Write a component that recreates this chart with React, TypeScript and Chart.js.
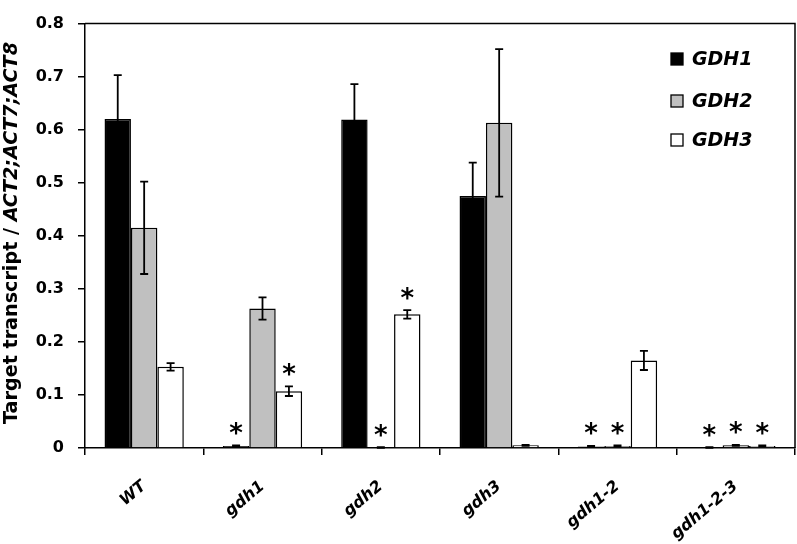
import React, { useEffect, useRef } from "react";
import { Chart, registerables } from "chart.js";

Chart.register(...registerables);

const categories = ["WT", "gdh1", "gdh2", "gdh3", "gdh1-2", "gdh1-2-3"];
const seriesNames = ["GDH1", "GDH2", "GDH3"];
const gdh1Values = [0.62, 0.004, 0.619, 0.475, 0.003, 0.001];
const gdh2Values = [0.415, 0.263, 0.001, 0.613, 0.004, 0.005];
const gdh3Values = [0.153, 0.107, 0.252, 0.005, 0.165, 0.004];
const gdh1Errors = [0.083, 0.001, 0.067, 0.063, 0.001, 0.0005];
const gdh2Errors = [0.087, 0.021, 0.0005, 0.139, 0.001, 0.001];
const gdh3Errors = [0.007, 0.009, 0.008, 0.001, 0.018, 0.001];
const gdh1Stars = [false, true, false, false, true, true];
const gdh2Stars = [false, false, true, false, true, true];
const gdh3Stars = [false, true, true, false, false, true];
const yTicks = [0, 0.1, 0.2, 0.3, 0.4, 0.5, 0.6, 0.7, 0.8];
const fillColors = ["#000000", "#c0c0c0", "#ffffff"];

const FONT = "'DejaVu Sans', sans-serif";

const errorsBySeries = [gdh1Errors, gdh2Errors, gdh3Errors];
const starsBySeries = [gdh1Stars, gdh2Stars, gdh3Stars];

const overlayPlugin = {
  id: "overlay",
  afterDatasetsDraw(chart: any) {
    const ctx = chart.ctx;
    const yScale = chart.scales.y;
    const area = chart.chartArea;
    ctx.save();
    chart.data.datasets.forEach((ds: any, i: number) => {
      const meta = chart.getDatasetMeta(i);
      meta.data.forEach((el: any, j: number) => {
        const v = ds.data[j];
        const e = errorsBySeries[i][j];
        const x = el.x;
        const yTop = yScale.getPixelForValue(v + e);
        const yBot = yScale.getPixelForValue(Math.max(0, v - e));
        ctx.strokeStyle = "#000";
        ctx.lineWidth = 1.8;
        ctx.beginPath();
        ctx.moveTo(x, yTop);
        ctx.lineTo(x, yBot);
        ctx.moveTo(x - 4, yTop);
        ctx.lineTo(x + 4, yTop);
        ctx.moveTo(x - 4, yBot);
        ctx.lineTo(x + 4, yBot);
        ctx.stroke();
        if (starsBySeries[i][j]) {
          ctx.font = `bold 26px ${FONT}`;
          ctx.fillStyle = "#000";
          ctx.textAlign = "center";
          ctx.textBaseline = "alphabetic";
          const m = ctx.measureText("*");
          const cy = Math.min(yTop, yScale.getPixelForValue(v)) - 17;
          const off = (m.actualBoundingBoxAscent - m.actualBoundingBoxDescent) / 2;
          ctx.fillText("*", x, cy + off);
        }
      });
    });
    ctx.strokeStyle = "#000";
    ctx.lineWidth = 1.5;
    ctx.beginPath();
    ctx.moveTo(area.left, area.top);
    ctx.lineTo(area.right, area.top);
    ctx.lineTo(area.right, area.bottom);
    ctx.stroke();
    const legendY = [59, 101, 140];
    seriesNames.forEach((name, i) => {
      const cy = legendY[i];
      ctx.fillStyle = fillColors[i];
      ctx.fillRect(671, cy - 6, 12, 12);
      ctx.strokeStyle = "#000";
      ctx.lineWidth = 1.3;
      ctx.strokeRect(671, cy - 6, 12, 12);
      ctx.fillStyle = "#000";
      ctx.font = `italic bold 19px ${FONT}`;
      ctx.textAlign = "left";
      ctx.textBaseline = "middle";
      ctx.fillText(name, 692, cy + 1);
    });
    const part1 = "Target transcript / ";
    const part2 = "ACT2;ACT7;ACT8";
    const f1 = `bold 19px ${FONT}`;
    const f2 = `italic bold 19px ${FONT}`;
    ctx.font = f1;
    const w1 = ctx.measureText(part1).width;
    ctx.font = f2;
    const w2 = ctx.measureText(part2).width;
    const total = w1 + w2;
    const target = 382;
    const s = target / total;
    ctx.translate(12, 233);
    ctx.rotate(-Math.PI / 2);
    ctx.scale(s, 1);
    ctx.textAlign = "left";
    ctx.textBaseline = "middle";
    ctx.fillStyle = "#000";
    ctx.font = f1;
    ctx.fillText(part1, -total / 2, 0);
    ctx.font = f2;
    ctx.fillText(part2, -total / 2 + w1, 0);
    ctx.restore();
  },
};

export default function App() {
  const ref = useRef<HTMLCanvasElement>(null);
  useEffect(() => {
    document.body.style.margin = "0";
    const canvas = ref.current!;
    const chart = new Chart(canvas, {
      type: "bar",
      data: {
        labels: categories,
        datasets: [gdh1Values, gdh2Values, gdh3Values].map((vals, i) => ({
          label: seriesNames[i],
          data: vals,
          backgroundColor: fillColors[i],
          borderColor: "#000",
          borderWidth: 1.5,
          categoryPercentage: 0.67,
          barPercentage: 1.0,
        })),
      },
      options: {
        responsive: false,
        animation: false,
        devicePixelRatio: 1,
        layout: { padding: { top: 8, right: 2, left: 0, bottom: 0 } },
        plugins: {
          legend: { display: false },
          tooltip: { enabled: false },
          title: { display: false },
        },
        scales: {
          x: {
            grid: {
              offset: true,
              drawOnChartArea: false,
              drawTicks: true,
              tickLength: 7,
              color: "#000",
              lineWidth: 1.5,
            },
            border: { display: true, color: "#000", width: 1.5 },
            ticks: {
              color: "#000",
              font: { family: FONT, size: 16, weight: "bold", style: "italic" },
              minRotation: 40,
              maxRotation: 40,
              padding: 22,
              autoSkip: false,
            },
            afterFit: (scale: any) => {
              scale.height = 96;
            },
          },
          y: {
            min: 0,
            max: 0.8,
            afterBuildTicks: (scale: any) => {
              scale.ticks = yTicks.map((v) => ({ value: v }));
            },
            grid: {
              drawOnChartArea: false,
              drawTicks: true,
              tickLength: 7,
              color: "#000",
              lineWidth: 1.5,
            },
            border: { display: true, color: "#000", width: 1.5 },
            ticks: {
              color: "#000",
              font: { family: FONT, size: 16, weight: "bold" },
              padding: 14,
              callback: (v: any) => String(Math.round(Number(v) * 10) / 10),
            },
            afterFit: (scale: any) => {
              scale.width = 85;
            },
          },
        },
      },
      plugins: [overlayPlugin],
    });
    return () => chart.destroy();
  }, []);
  return (
    <div style={{ width: 797, height: 544 }}>
      <canvas ref={ref} width={797} height={544} />
    </div>
  );
}
